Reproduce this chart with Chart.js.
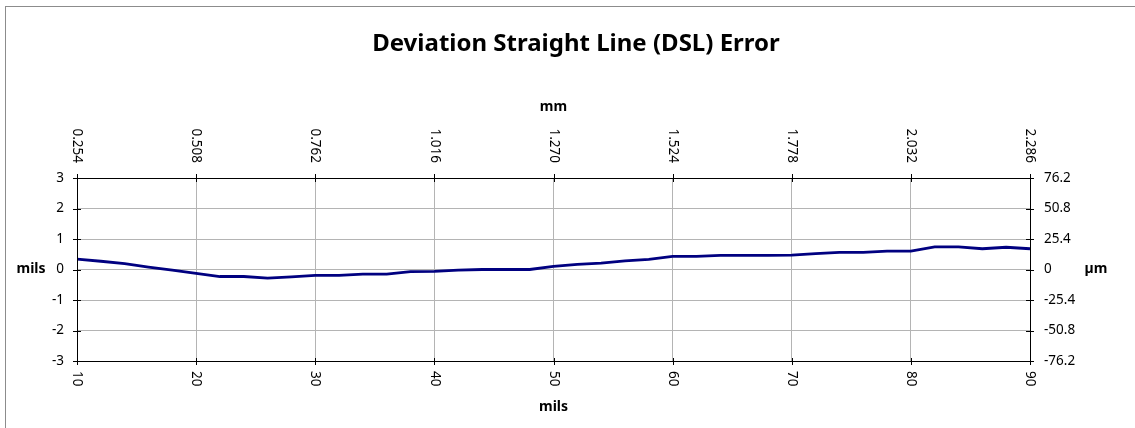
<!DOCTYPE html>
<html>
<head>
<meta charset="utf-8">
<script src="https://cdn.jsdelivr.net/npm/chart.js@4/dist/chart.umd.min.js"></script>
<style>
  html, body { margin: 0; padding: 0; background: #fff; }
  #wrap { width: 1135px; height: 428px; }
</style>
</head>
<body>
<div id="wrap"><canvas id="dsl-chart" width="1135" height="428"></canvas></div>
<script>
// data
const xMils = [10, 12, 14, 16, 18, 20, 22, 24, 26, 28, 30, 32, 34, 36, 38, 40, 42, 44, 46, 48, 50,
  52, 54, 56, 58, 60, 62, 64, 66, 68, 70, 72, 74, 76, 78, 80, 82, 84, 86, 88, 90];
const dslMils = [0.34, 0.27, 0.19, 0.08, -0.02, -0.13, -0.23, -0.23, -0.28, -0.24, -0.19, -0.19, -0.15, -0.15, -0.07, -0.06, -0.02, 0.0, 0.0, 0.0, 0.1,
  0.17, 0.21, 0.28, 0.33, 0.43, 0.43, 0.46, 0.46, 0.46, 0.47, 0.52, 0.56, 0.56, 0.6, 0.6, 0.74, 0.74, 0.68, 0.73, 0.68];

// tick labels
const milsTicks = [10, 20, 30, 40, 50, 60, 70, 80, 90];
const mmTicks = ['0.254', '0.508', '0.762', '1.016', '1.270', '1.524', '1.778', '2.032', '2.286'];
const yMilsTicks = [3, 2, 1, 0, -1, -2, -3];
const umTicks = ['76.2', '50.8', '25.4', '0', '-25.4', '-50.8', '-76.2'];

const FONT = '"Noto Sans", "Open Sans", sans-serif';

// draws frame, axes, tick marks and all text
const decorPlugin = {
  id: 'decor',
  afterDraw(chart) {
    const ctx = chart.ctx;
    const area = chart.chartArea;
    const sx = chart.scales.x;
    const sx2 = chart.scales.x2;
    const sy = chart.scales.y;
    const sy2 = chart.scales.y2;

    ctx.save();
    // outer frame (right/bottom edges run off the picture)
    ctx.strokeStyle = '#8c8c8c';
    ctx.lineWidth = 1;
    ctx.strokeRect(5.5, 6.5, 1150, 440);

    // axis lines
    ctx.strokeStyle = '#000';
    ctx.beginPath();
    ctx.moveTo(area.left + 0.5, area.top + 0.5);
    ctx.lineTo(area.right + 0.5, area.top + 0.5);
    ctx.lineTo(area.right + 0.5, area.bottom + 0.5);
    ctx.lineTo(area.left + 0.5, area.bottom + 0.5);
    ctx.closePath();
    ctx.stroke();

    // tick marks crossing the axes
    ctx.beginPath();
    milsTicks.forEach((v) => {
      const px = Math.round(sx.getPixelForValue(v)) + 0.5;
      ctx.moveTo(px, area.bottom - 3);
      ctx.lineTo(px, area.bottom + 4);
    });
    mmTicks.forEach((t) => {
      const px = Math.round(sx2.getPixelForValue(parseFloat(t))) + 0.5;
      ctx.moveTo(px, area.top - 4);
      ctx.lineTo(px, area.top + 4);
    });
    yMilsTicks.forEach((v) => {
      const py = Math.round(sy.getPixelForValue(v)) + 0.5;
      ctx.moveTo(area.left - 4, py);
      ctx.lineTo(area.left + 4, py);
    });
    umTicks.forEach((t) => {
      const py = Math.round(sy2.getPixelForValue(parseFloat(t))) + 0.5;
      ctx.moveTo(area.right - 4, py);
      ctx.lineTo(area.right + 4, py);
    });
    ctx.stroke();

    ctx.fillStyle = '#000';
    ctx.font = '13.5px ' + FONT;

    // bottom labels, rotated clockwise
    milsTicks.forEach((v) => {
      ctx.save();
      ctx.translate(sx.getPixelForValue(v), area.bottom + 10);
      ctx.rotate(Math.PI / 2);
      ctx.textAlign = 'left';
      ctx.textBaseline = 'middle';
      ctx.fillText(String(v), 0, 0);
      ctx.restore();
    });
    // top labels, rotated clockwise, ending above the axis
    mmTicks.forEach((t) => {
      ctx.save();
      ctx.translate(sx2.getPixelForValue(parseFloat(t)), area.top - 15);
      ctx.rotate(Math.PI / 2);
      ctx.textAlign = 'right';
      ctx.textBaseline = 'middle';
      ctx.fillText(t, 0, 0);
      ctx.restore();
    });
    // left / right labels
    ctx.textBaseline = 'middle';
    ctx.textAlign = 'right';
    yMilsTicks.forEach((v) => {
      ctx.fillText(String(v), area.left - 13, sy.getPixelForValue(v));
    });
    ctx.textAlign = 'left';
    umTicks.forEach((t) => {
      ctx.fillText(t, area.right + 14, sy2.getPixelForValue(parseFloat(t)));
    });

    // axis titles
    const midX = (area.left + area.right) / 2;
    const midY = (area.top + area.bottom) / 2;
    ctx.font = 'bold 14px ' + FONT;
    ctx.textAlign = 'center';
    ctx.fillText('mm', midX, 107);
    ctx.fillText('mils', midX, 407);
    ctx.fillText('mils', 31, midY);
    ctx.fillText('\u00b5m', 1096, midY);

    // title
    ctx.font = 'bold 24px ' + FONT;
    ctx.fillText('Deviation Straight Line (DSL) Error', 576, 44);
    ctx.restore();
  },
};

const ctx = document.getElementById('dsl-chart').getContext('2d');

new Chart(ctx, {
  type: 'line',
  data: {
    datasets: [
      {
        label: 'DSL',
        data: xMils.map((x, i) => ({ x: x, y: dslMils[i] })),
        borderColor: '#000080',
        borderWidth: 2.8,
        pointRadius: 0,
        tension: 0,
        fill: false,
        xAxisID: 'x',
        yAxisID: 'y',
      },
    ],
  },
  options: {
    responsive: false,
    animation: false,
    layout: {
      padding: { left: 77, right: 105, top: 178, bottom: 67 },
    },
    plugins: {
      legend: { display: false },
      tooltip: { enabled: false },
    },
    scales: {
      x: {
        type: 'linear',
        position: 'bottom',
        min: 10,
        max: 90,
        ticks: { display: false, stepSize: 10 },
        grid: { color: '#b4b4b4', drawTicks: false },
        border: { display: false },
      },
      x2: {
        type: 'linear',
        position: 'top',
        min: 0.254,
        max: 2.286,
        ticks: { display: false },
        grid: { display: false, drawTicks: false },
        border: { display: false },
      },
      y: {
        position: 'left',
        min: -3,
        max: 3,
        ticks: { display: false, stepSize: 1 },
        grid: { color: '#b4b4b4', drawTicks: false },
        border: { display: false },
      },
      y2: {
        position: 'right',
        min: -76.2,
        max: 76.2,
        ticks: { display: false },
        grid: { display: false, drawTicks: false },
        border: { display: false },
      },
    },
  },
  plugins: [decorPlugin],
});
</script>
</body>
</html>
